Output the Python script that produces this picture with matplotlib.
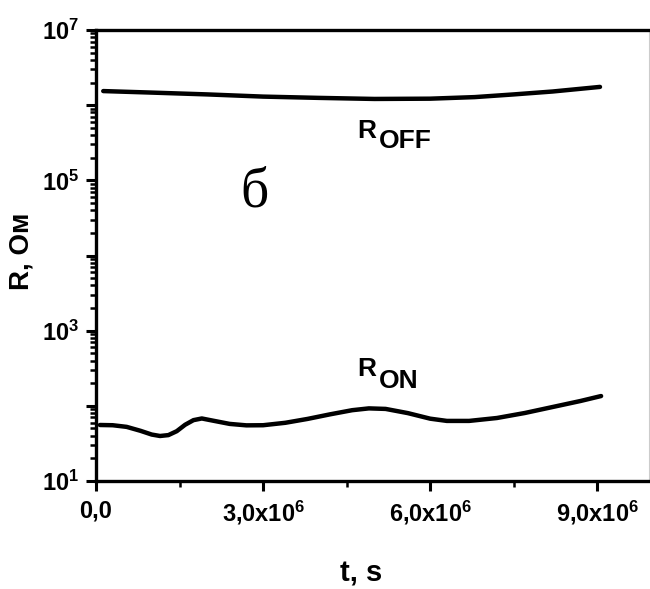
import matplotlib
matplotlib.use('Agg')
import matplotlib.pyplot as plt
from matplotlib.ticker import FixedLocator, FixedFormatter, LogLocator, NullFormatter

plt.rcParams['font.family'] = ['Liberation Sans', 'DejaVu Sans']
plt.rcParams['mathtext.fontset'] = 'custom'
plt.rcParams['mathtext.rm'] = 'Liberation Sans:bold'
plt.rcParams['mathtext.it'] = 'Liberation Sans:bold'
plt.rcParams['mathtext.bf'] = 'Liberation Sans:bold'

# R_OFF
t_off = [0.13e6, 1.0e6, 2.0e6, 3.0e6, 4.0e6, 5.0e6, 6.0e6, 6.8e6, 7.5e6, 8.2e6, 9.05e6]
r_off = [1.54e6, 1.47e6, 1.39e6, 1.30e6, 1.25e6, 1.21e6, 1.22e6, 1.28e6, 1.39e6, 1.52e6, 1.75e6]

# R_ON
t_on = [0.07e6, 0.3e6, 0.55e6, 0.8e6, 1.0e6, 1.15e6, 1.3e6, 1.45e6, 1.6e6, 1.75e6,
        1.9e6, 2.1e6, 2.4e6, 2.7e6, 3.0e6, 3.4e6, 3.8e6, 4.2e6, 4.6e6, 4.9e6,
        5.2e6, 5.6e6, 6.0e6, 6.3e6, 6.7e6, 7.2e6, 7.7e6, 8.2e6, 8.7e6, 9.07e6]
r_on = [55.6, 55.2, 52.5, 46.5, 41.5, 39.7, 40.8, 46.0, 56.0, 64.5,
        67.9, 63.5, 57.5, 55.0, 55.2, 59.5, 67.0, 77.0, 87.5, 92.5,
        91.0, 80.0, 67.5, 63.0, 63.0, 68.9, 80.3, 96.5, 116.0, 135.0]

x_major = [0, 3e6, 6e6, 9e6]
x_labels = ['0,0', '3,0x10$^{6}$', '6,0x10$^{6}$', '9,0x10$^{6}$']
x_minor = [1.5e6, 4.5e6, 7.5e6]
y_major = [1e1, 1e2, 1e3, 1e4, 1e5, 1e6, 1e7]
y_labels = ['$10^{1}$', '', '$10^{3}$', '', '$10^{5}$', '', '$10^{7}$']

fig = plt.figure(figsize=(6.5, 5.89), dpi=100)
ax = fig.add_axes([96/650, 1-481/589, (649-96)/650, (481-30)/589])

ax.plot(t_off, r_off, color='black', lw=3.2, solid_capstyle='round', solid_joinstyle='round')
ax.plot(t_on, r_on, color='black', lw=3.2, solid_capstyle='round', solid_joinstyle='round')

ax.set_yscale('log')
ax.set_ylim(1e1, 1e7)
ax.set_xlim(0, 9.93e6)

ax.xaxis.set_major_locator(FixedLocator(x_major))
ax.xaxis.set_major_formatter(FixedFormatter(x_labels))
ax.xaxis.set_minor_locator(FixedLocator(x_minor))
ax.yaxis.set_major_locator(FixedLocator(y_major))
ax.yaxis.set_major_formatter(FixedFormatter(y_labels))
ax.yaxis.set_minor_locator(LogLocator(base=10, subs=range(2, 10)))
ax.yaxis.set_minor_formatter(NullFormatter())

for s in ['left', 'bottom', 'top']:
    ax.spines[s].set_linewidth(2.4)
ax.spines['right'].set_linewidth(0.8)
ax.spines['right'].set_color('#cccccc')

ax.tick_params(which='major', direction='out', length=7, width=2.2, labelsize=17)
ax.tick_params(axis='x', which='major', pad=6)
ax.tick_params(axis='y', which='major', pad=5)
ax.tick_params(which='minor', direction='out', length=4.5, width=1.8)
ax.tick_params(axis='y', which='both', right=False)
ax.tick_params(axis='x', which='both', top=False)
for lab in ax.get_xticklabels() + ax.get_yticklabels():
    lab.set_fontweight('bold')

ax.set_xlabel('t, s', fontsize=21, fontweight='bold')
ax.xaxis.set_label_coords(0.48, -0.175)
ax.set_ylabel('R, Ом', fontsize=20, fontweight='bold')
ax.yaxis.set_label_coords(-0.112, 0.51)

# curve labels
ax.text(0.473, 0.76, 'R', transform=ax.transAxes, fontsize=19, fontweight='bold', va='baseline')
ax.text(0.512, 0.738, 'OFF', transform=ax.transAxes, fontsize=19, fontweight='bold', va='baseline')
ax.text(0.473, 0.232, 'R', transform=ax.transAxes, fontsize=19, fontweight='bold', va='baseline')
ax.text(0.512, 0.206, 'ON', transform=ax.transAxes, fontsize=19, fontweight='bold', va='baseline')
ax.text(0.286, 0.64, 'б', transform=ax.transAxes, fontsize=40, family='Liberation Serif',
        ha='center', va='center')

fig.savefig('out.png', dpi=100)
